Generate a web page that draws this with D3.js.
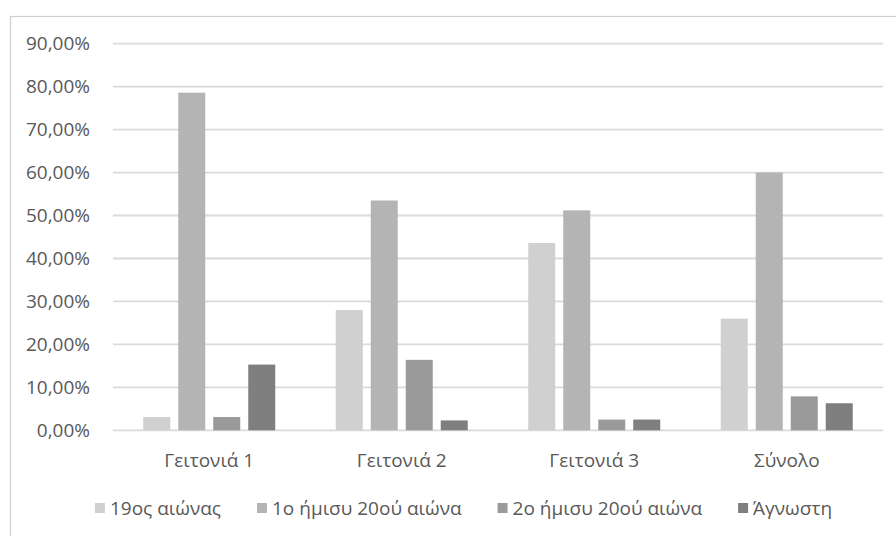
<!DOCTYPE html>
<html>
<head>
<meta charset="utf-8">
<script src="https://cdn.jsdelivr.net/npm/d3@7"></script>
<style>
  body { margin: 0; background: #fff; }
  text { font-family: "Open Sans", "Noto Sans", sans-serif; fill: #595959; }
</style>
</head>
<body>
<svg id="chart"></svg>
<script>
var categories = ["Γειτονιά 1", "Γειτονιά 2", "Γειτονιά 3", "Σύνολο"]
var seriesNames = ["19ος αιώνας", "1ο ήμισυ 20ού αιώνα", "2ο ήμισυ 20ού αιώνα", "Άγνωστη"]
var seriesColors = ["#d0d0d0", "#b4b4b4", "#9a9a9a", "#7f7f7f"]
var values19 = [0.031, 0.280, 0.436, 0.260]
var valuesFirstHalf = [0.786, 0.535, 0.512, 0.600]
var valuesSecondHalf = [0.031, 0.164, 0.025, 0.079]
var valuesUnknown = [0.153, 0.023, 0.025, 0.063]
var yTicks = [0, 0.1, 0.2, 0.3, 0.4, 0.5, 0.6, 0.7, 0.8, 0.9]

var seriesValues = [values19, valuesFirstHalf, valuesSecondHalf, valuesUnknown]
var dataset = categories.map((c, i) => ({
    category: c,
    values: seriesNames.map((s, j) => ({ series: s, index: j, value: seriesValues[j][i] }))
}))

var dimensions = {
    width: 896,
    height: 536,
    margin: { top: 44, bottom: 106, right: 13, left: 113 }
}

var svg = d3.select("#chart")
            .attr("width", dimensions.width)
            .attr("height", dimensions.height)

// chart area border (Excel frame)
svg.append("rect")
   .attr("x", 10.5).attr("y", 16.5)
   .attr("width", 900).attr("height", 600)
   .attr("fill", "none")
   .attr("stroke", "#cfcfcf")
   .attr("stroke-width", 1.2)

var xScale = d3.scaleBand()
               .domain(categories)
               .range([dimensions.margin.left, dimensions.width - dimensions.margin.right])

var half = 66
var xInner = d3.scaleBand()
               .domain(seriesNames)
               .range([xScale.bandwidth() / 2 - half, xScale.bandwidth() / 2 + half])
               .paddingInner(8 / 35)

var yScale = d3.scaleLinear()
               .domain([0, 0.9])
               .range([dimensions.height - dimensions.margin.bottom + 0.3, dimensions.margin.top - 0.3])

var percentFmt = d => d3.format(".2f")(d * 100).replace(".", ",") + "%"

// gridlines
svg.append("g")
   .selectAll("line")
   .data(yTicks)
   .enter()
   .append("line")
   .attr("x1", dimensions.margin.left)
   .attr("x2", dimensions.width - dimensions.margin.right)
   .attr("y1", d => yScale(d))
   .attr("y2", d => yScale(d))
   .attr("stroke", "#dadada")
   .attr("stroke-width", 1.8)

// y labels
var yAxisGen = d3.axisLeft(yScale).tickValues(yTicks).tickFormat(percentFmt).tickSize(0).tickPadding(0)
var yAxis = svg.append("g")
               .attr("transform", "translate(90,0)")
               .call(yAxisGen)
yAxis.select(".domain").remove()
yAxis.selectAll("text")
     .attr("fill", "#595959")
     .style("font-size", "19px")
     .style("font-family", "'Open Sans', 'Noto Sans', sans-serif")

// bars
var groups = svg.append("g")
                .selectAll("g")
                .data(dataset)
                .enter()
                .append("g")
                .attr("transform", d => `translate(${xScale(d.category)},0)`)

groups.selectAll("rect")
      .data(d => d.values)
      .enter()
      .append("rect")
      .attr("x", d => xInner(d.series))
      .attr("width", xInner.bandwidth())
      .attr("y", d => yScale(d.value))
      .attr("height", d => yScale(0) - yScale(d.value))
      .attr("fill", d => seriesColors[d.index])

// category labels
var xAxisGen = d3.axisBottom(xScale).tickSize(0).tickPadding(0)
var xAxis = svg.append("g")
               .attr("transform", "translate(0,467)")
               .call(xAxisGen)
xAxis.select(".domain").remove()
xAxis.selectAll("text")
     .attr("dy", 0)
     .attr("fill", "#595959")
     .style("font-size", "19px")
     .style("font-family", "'Open Sans', 'Noto Sans', sans-serif")

// legend
var legend = svg.append("g")
var items = legend.selectAll("g")
                  .data(seriesNames)
                  .enter()
                  .append("g")
items.append("rect")
     .attr("width", 10).attr("height", 10)
     .attr("y", 503)
     .attr("fill", (d, i) => seriesColors[i])
items.append("text")
     .attr("x", 15)
     .attr("y", 515)
     .style("font-size", "19px")
     .text(d => d)

var offsets = []
var pos = 0
items.each(function(d, i) {
    offsets.push(pos)
    pos += 15 + this.querySelector("text").getComputedTextLength() + 36
})
var total = pos - 36
var start = 463.5 - total / 2
items.attr("transform", (d, i) => `translate(${start + offsets[i]},0)`)
</script>
</body>
</html>
